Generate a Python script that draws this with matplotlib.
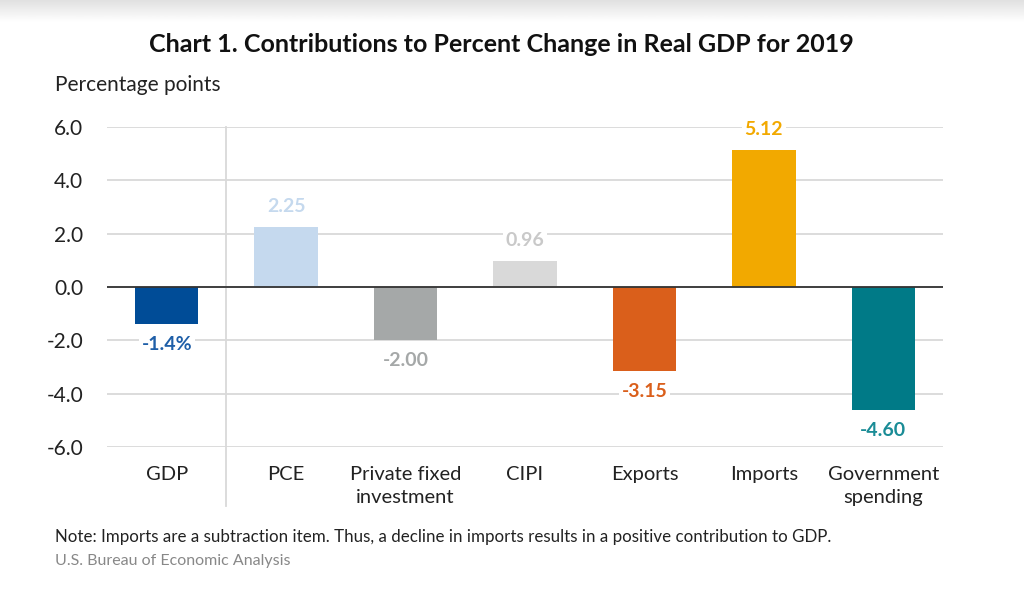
import numpy as np
import matplotlib.pyplot as plt

categories = ["GDP", "PCE", "Private fixed\ninvestment", "CIPI", "Exports", "Imports", "Government\nspending"]
values = [-1.4, 2.25, -2.00, 0.96, -3.15, 5.12, -4.60]
value_labels = ["-1.4%", "2.25", "-2.00", "0.96", "-3.15", "5.12", "-4.60"]
bar_colors = ["#004C97", "#C5D9EE", "#A5A8A8", "#D9D9D9", "#DA5F1B", "#F2A900", "#007A87"]
label_colors = ["#1F5FA8", "#C5D9EE", "#A5A8A8", "#C9C9C9", "#DA5F1B", "#F2A900", "#1A8C96"]
yticks = [-6.0, -4.0, -2.0, 0.0, 2.0, 4.0, 6.0]

plt.rcParams['font.family'] = ['Lato', 'DejaVu Sans']

fig = plt.figure(figsize=(10.24, 6.1), dpi=100)
W, H = 1024, 610

# faint grey shadow band at the top of the screenshot
grad = fig.add_axes([0, 1 - 22 / H, 1, 22 / H])
grad.imshow(np.linspace(0.88, 1.0, 50).reshape(-1, 1), cmap="gray", vmin=0, vmax=1,
            aspect="auto", extent=[0, 1, 0, 1])
grad.axis("off")

ax = fig.add_axes([107 / W, 1 - 447 / H, (943 - 107) / W, (447 - 127) / H])
x = np.arange(len(categories))
ax.bar(x, values, width=0.53, color=bar_colors, zorder=3)

ax.set_xlim(-0.5, len(categories) - 0.5)
ax.set_ylim(-6, 6)
ax.set_yticks(yticks)
ax.set_yticklabels([f"{t:.1f}" for t in yticks], fontsize=15, color="#222222")
ax.grid(axis="y", color="#D9D9D9", lw=1.3, zorder=0)
ax.axhline(0, color="#333333", lw=1.3, zorder=4)
ax.tick_params(axis="both", length=0, pad=14)
ax.tick_params(axis="y", pad=17)
ax.set_xticks(x)
ax.set_xticklabels(categories, fontsize=14.5, color="#222222", linespacing=1.4, va="top")
for s in ax.spines.values():
    s.set_visible(False)

# separator between GDP and the components
ax.plot([0.5, 0.5], [6, -8.2], color="#D9D9D9", lw=1.3, clip_on=False, zorder=1)

for xi, v, lab, c in zip(x, values, value_labels, label_colors):
    if v >= 0:
        ax.text(xi, v + 0.45, lab, ha="center", va="bottom", fontsize=14, fontweight="bold",
                color=c, zorder=5, bbox=dict(facecolor="white", edgecolor="none", pad=2))
    else:
        ax.text(xi, v - 0.45, lab, ha="center", va="top", fontsize=14, fontweight="bold",
                color=c, zorder=5, bbox=dict(facecolor="white", edgecolor="none", pad=2))

fig.text(501 / W, 1 - 45 / H, "Chart 1. Contributions to Percent Change in Real GDP for 2019",
         ha="center", va="center", fontsize=18, fontweight="bold", color="#111111")
fig.text(55 / W, 1 - 85 / H, "Percentage points", ha="left", va="center", fontsize=15, color="#222222")
fig.text(55 / W, 1 - 537 / H,
         "Note: Imports are a subtraction item. Thus, a decline in imports results in a positive contribution to GDP.",
         ha="left", va="center", fontsize=12.2, color="#222222")
fig.text(55 / W, 1 - 561 / H, "U.S. Bureau of Economic Analysis", ha="left", va="center",
         fontsize=11.5, color="#888888")

fig.savefig("out.png", dpi=100)
